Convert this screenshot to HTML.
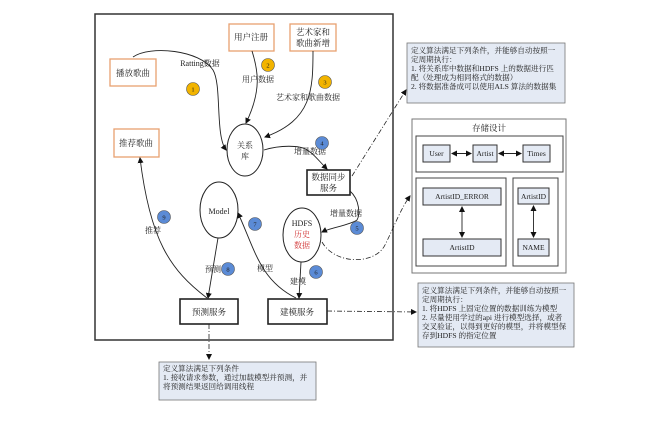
<!DOCTYPE html>
<html><head><meta charset="utf-8"><style>
html,body{margin:0;padding:0;background:#fff;width:648px;height:422px;overflow:hidden}
svg{display:block}
text{font-family:"Liberation Serif","Noto Serif CJK SC","Noto Sans CJK SC",serif;fill:#222}
</style></head><body>
<svg width="648" height="422" viewBox="0 0 648 422" xmlns="http://www.w3.org/2000/svg">
<defs>
<marker id="a" markerWidth="6" markerHeight="6" refX="5" refY="3" orient="auto" markerUnits="userSpaceOnUse"><path d="M0,0 L6,3 L0,6 z" fill="#111"/></marker>
<marker id="b" markerWidth="6" markerHeight="6" refX="1" refY="3" orient="auto" markerUnits="userSpaceOnUse"><path d="M6,0 L0,3 L6,6 z" fill="#111"/></marker>
</defs>
<rect x="95" y="14" width="298" height="326" fill="none" stroke="#333" stroke-width="1.5"/>
<g fill="#fff" stroke="#e8a070" stroke-width="1.3">
<rect x="110" y="59" width="46" height="27"/>
<rect x="229" y="24" width="45" height="27"/>
<rect x="290" y="24" width="46" height="27"/>
<rect x="114" y="129" width="45" height="28"/>
</g>
<g font-size="8.5" text-anchor="middle">
<text x="133" y="76">播放歌曲</text>
<text x="251" y="40">用户注册</text>
<text x="313" y="35">艺术家和</text>
<text x="313" y="46">歌曲新增</text>
<text x="136" y="146">推荐歌曲</text>
</g>
<g fill="#fff" stroke="#222" stroke-width="1">
<ellipse cx="245" cy="150" rx="18" ry="26"/>
<ellipse cx="219" cy="210" rx="19" ry="28"/>
<ellipse cx="302" cy="235" rx="19" ry="27"/>
</g>
<g font-size="8" text-anchor="middle">
<text x="245" y="148">关系</text>
<text x="245" y="159">库</text>
<text x="219" y="214">Model</text>
<text x="302" y="226">HDFS</text>
<text x="302" y="237" style="fill:#d03030">历史</text>
<text x="302" y="248" style="fill:#d03030">数据</text>
</g>
<g fill="#fff" stroke="#222" stroke-width="1.6">
<rect x="307" y="170" width="43" height="25"/>
<rect x="180" y="299" width="58" height="25"/>
<rect x="268" y="299" width="59" height="25"/>
</g>
<g font-size="8.5" text-anchor="middle">
<text x="328.5" y="180">数据同步</text>
<text x="328.5" y="191">服务</text>
<text x="209" y="315">预测服务</text>
<text x="297" y="315">建模服务</text>
</g>
<g fill="none" stroke="#222" stroke-width="0.9">
<path d="M133,57 C150,45 200,50 213,70 C222,85 215,135 226,150" marker-end="url(#a)"/>
<path d="M252,51 C258,70 262,90 246,123" marker-end="url(#a)"/>
<path d="M313,51 C313,90 312,120 265,137" marker-end="url(#a)"/>
<path d="M264,150 C280,145 300,145 307,150 C315,155 318,160 327,169" marker-end="url(#a)"/>
<path d="M350,191 C360,200 360,215 357,220 C350,225 330,228 322,232" marker-end="url(#a)"/>
<path d="M301,262 L299,298" marker-end="url(#a)"/>
<path d="M296,298 C260,280 255,250 238,213" marker-end="url(#a)"/>
<path d="M218,238 L208,298" marker-end="url(#a)"/>
<path d="M207,298 C170,270 150,240 140,158" marker-end="url(#a)"/>
</g>
<g fill="none" stroke="#222" stroke-width="0.8" stroke-dasharray="5,2,1,2">
<path d="M352,176 L406,90" marker-end="url(#a)"/>
<path d="M322,242 C335,265 375,265 385,245 C395,225 400,210 410,196" marker-end="url(#a)"/>
<path d="M327,311 L416,312" marker-end="url(#a)"/>
<path d="M209,324 L209,359" marker-end="url(#a)"/>
</g>
<g font-size="8" text-anchor="middle">
<text x="200" y="66">Ratting数据</text>
<text x="258" y="82">用户数据</text>
<text x="308" y="100">艺术家和歌曲数据</text>
<text x="310" y="154">增量数据</text>
<text x="346" y="216">增量数据</text>
<text x="298" y="284">建模</text>
<text x="265" y="271">模型</text>
<text x="213" y="272">预测</text>
<text x="153" y="233">推荐</text>
</g>
<g stroke="#555" stroke-width="0.6">
<circle cx="193" cy="89" r="6.5" fill="#f2b400"/>
<circle cx="268" cy="65" r="6.5" fill="#f2b400"/>
<circle cx="325" cy="82" r="6.5" fill="#f2b400"/>
<circle cx="322" cy="143" r="6.5" fill="#5b8bd6"/>
<circle cx="357" cy="228" r="6.5" fill="#5b8bd6"/>
<circle cx="316" cy="272" r="6.5" fill="#5b8bd6"/>
<circle cx="255" cy="224" r="6.5" fill="#5b8bd6"/>
<circle cx="228" cy="269" r="6.5" fill="#5b8bd6"/>
<circle cx="164" cy="217" r="6.5" fill="#5b8bd6"/>
</g>
<g font-size="6.5" text-anchor="middle">
<text x="193" y="91.5">1</text><text x="268" y="67.5">2</text><text x="325" y="84.5">3</text>
<text x="322" y="145.5">4</text><text x="357" y="230.5">5</text><text x="316" y="274.5">6</text>
<text x="255" y="226.5">7</text><text x="228" y="271.5">8</text><text x="164" y="219.5">9</text>
</g>
<g fill="#e4eaf4" stroke="#777" stroke-width="0.8">
<rect x="407" y="43" width="158" height="60"/>
<rect x="418" y="283" width="156" height="64"/>
<rect x="159" y="362" width="157" height="38"/>
</g>
<g font-size="7.6" style="font-family:'Liberation Sans','Noto Sans CJK SC',sans-serif">
<text x="411" y="53">定义算法满足下列条件，并能够自动按照一</text>
<text x="411" y="62">定周期执行：</text>
<text x="411" y="71">1. 将关系库中数据和HDFS 上的数据进行匹</text>
<text x="411" y="80">配（处理成为相同格式的数据）</text>
<text x="411" y="89">2. 将数据准备成可以使用ALS 算法的数据集</text>
<text x="422" y="293">定义算法满足下列条件，并能够自动按照一</text>
<text x="422" y="302">定周期执行：</text>
<text x="422" y="311">1. 将HDFS 上固定位置的数据训练为模型</text>
<text x="422" y="320">2. 尽量使用学过的api 进行模型选择，或者</text>
<text x="422" y="329">交叉验证，以得到更好的模型，并将模型保</text>
<text x="422" y="338">存到HDFS 的指定位置</text>
<text x="163" y="371">定义算法满足下列条件</text>
<text x="163" y="380">1. 接收请求参数，通过加载模型并预测，并</text>
<text x="163" y="389">将预测结果返回给调用线程</text>
</g>
<rect x="412" y="119" width="154" height="154" fill="#fff" stroke="#777" stroke-width="1"/>
<text x="489" y="131" font-size="8.5" text-anchor="middle">存储设计</text>
<g fill="#fff" stroke="#444" stroke-width="1">
<rect x="416" y="136" width="147" height="36"/>
<rect x="416" y="178" width="90" height="88"/>
<rect x="513" y="178" width="45" height="88"/>
</g>
<g fill="#e4eaf4" stroke="#333" stroke-width="1">
<rect x="423" y="145" width="27" height="17"/>
<rect x="473" y="145" width="24" height="17"/>
<rect x="523" y="145" width="27" height="17"/>
<rect x="423" y="188" width="78" height="17"/>
<rect x="423" y="239" width="78" height="17"/>
<rect x="518" y="188" width="31" height="16"/>
<rect x="518" y="239" width="31" height="17"/>
</g>
<g font-size="7.5" text-anchor="middle">
<text x="436.5" y="156">User</text>
<text x="485" y="156">Artist</text>
<text x="536.5" y="156">Times</text>
<text x="462" y="199">ArtistID_ERROR</text>
<text x="462" y="250">ArtistID</text>
<text x="533.5" y="199">ArtistID</text>
<text x="533.5" y="250">NAME</text>
</g>
<g stroke="#222" stroke-width="0.9" fill="none">
<path d="M452,153.5 L471,153.5" marker-start="url(#b)" marker-end="url(#a)"/>
<path d="M499,153.5 L521,153.5" marker-start="url(#b)" marker-end="url(#a)"/>
<path d="M462,207 L462,237" marker-start="url(#b)" marker-end="url(#a)"/>
<path d="M533.5,206 L533.5,237" marker-start="url(#b)" marker-end="url(#a)"/>
</g>
</svg>
</body></html>
